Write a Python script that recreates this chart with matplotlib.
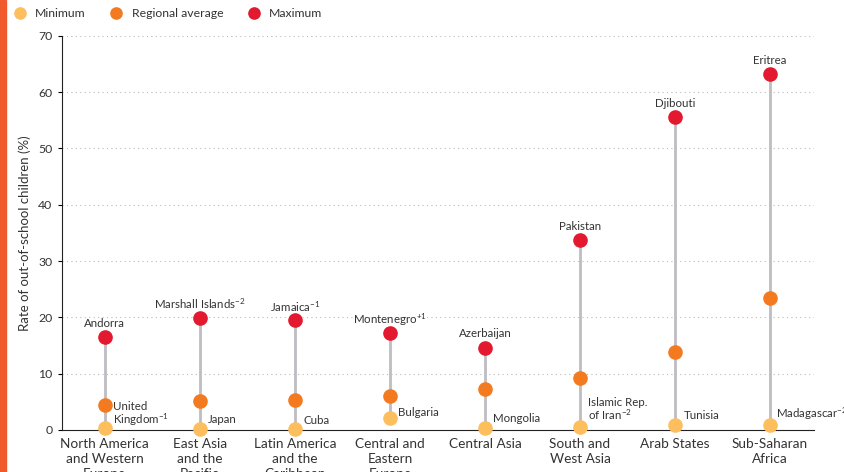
import matplotlib.pyplot as plt
from matplotlib.patches import Rectangle

plt.rcParams['font.family'] = ['Lato', 'DejaVu Sans']
plt.rcParams['mathtext.fontset'] = 'custom'
plt.rcParams['mathtext.rm'] = 'Lato'
plt.rcParams['mathtext.it'] = 'Lato'

# regions and out-of-school rates (%)
regions = ["North America\nand Western\nEurope", "East Asia\nand the\nPacific",
           "Latin America\nand the\nCaribbean", "Central and\nEastern\nEurope",
           "Central Asia", "South and\nWest Asia", "Arab States", "Sub-Saharan\nAfrica"]
minimum = [0.3, 0.1, 0.2, 2.1, 0.3, 0.6, 0.8, 0.9]
average = [4.5, 5.1, 5.3, 6.0, 7.3, 9.2, 13.9, 23.4]
maximum = [16.5, 19.9, 19.5, 17.2, 14.6, 33.7, 55.6, 63.2]
min_country = ["United\nKingdom$^{-1}$", "Japan", "Cuba", "Bulgaria", "Mongolia",
               "Islamic Rep.\nof Iran$^{-2}$", "Tunisia", "Madagascar$^{-2}$"]
max_country = ["Andorra", "Marshall Islands$^{-2}$", "Jamaica$^{-1}$", "Montenegro$^{+1}$",
               "Azerbaijan", "Pakistan", "Djibouti", "Eritrea"]

c_min = "#FDBF5E"
c_avg = "#F47A20"
c_max = "#E2192F"
txt = "#333333"

fig = plt.figure(figsize=(8.45, 4.72), dpi=100)
ax = fig.add_axes([0.0734, 0.089, 0.8896, 0.835])

x = list(range(len(regions)))
ax.vlines(x, minimum, maximum, color="#BDBDC2", lw=2, zorder=1)
ax.plot(x, minimum, 'o', color=c_min, ms=9.5, ls='none', zorder=3, label="Minimum", clip_on=False)
ax.plot(x, average, 'o', color=c_avg, ms=9.5, ls='none', zorder=3, label="Regional average", clip_on=False)
ax.plot(x, maximum, 'o', color=c_max, ms=9.5, ls='none', zorder=3, label="Maximum", clip_on=False)

# label offsets for the minimum countries (points)
min_dy = [10, 7, 6, 4, 7, 12, 7, 8]
min_dx = [6, 6, 6, 6, 6, 6, 6, 4]
for i in x:
    ax.annotate(max_country[i], (i, maximum[i]), xytext=(0, 10), textcoords='offset points',
                ha='center', va='center', fontsize=8.3, color=txt)
    ax.annotate(min_country[i], (i, minimum[i]), xytext=(min_dx[i], min_dy[i]),
                textcoords='offset points', ha='left', va='center', fontsize=8.3,
                color=txt, linespacing=0.95)

ax.set_xlim(-0.45, 7.46)
ax.set_ylim(0, 70)
ax.set_yticks(range(0, 71, 10))
ax.set_xticks(x)
ax.set_xticklabels(regions, fontsize=9.8, color=txt, linespacing=1.3)
ax.tick_params(axis='x', length=0, pad=6)
ax.tick_params(axis='y', length=3, labelsize=8.8, labelcolor=txt, pad=4)
ax.set_ylabel("Rate of out-of-school children (%)", fontsize=9.5, color=txt, labelpad=5)
ax.grid(axis='y', ls=(0, (1, 3)), color="#BBBBBB", lw=0.8)
ax.set_axisbelow(True)
for s in ['top', 'right']:
    ax.spines[s].set_visible(False)
ax.spines['left'].set_color("#222222")
ax.spines['bottom'].set_color("#222222")

fig.legend(loc='upper left', bbox_to_anchor=(-0.004, 1.006), ncol=3, frameon=False,
           fontsize=8.8, handletextpad=0.25, columnspacing=1.5, markerscale=0.85,
           labelcolor=txt)

fig.patches.append(Rectangle((0, 0), 0.007, 1, transform=fig.transFigure,
                             color="#F15A2B", zorder=0))

fig.savefig("out.png", dpi=100)
